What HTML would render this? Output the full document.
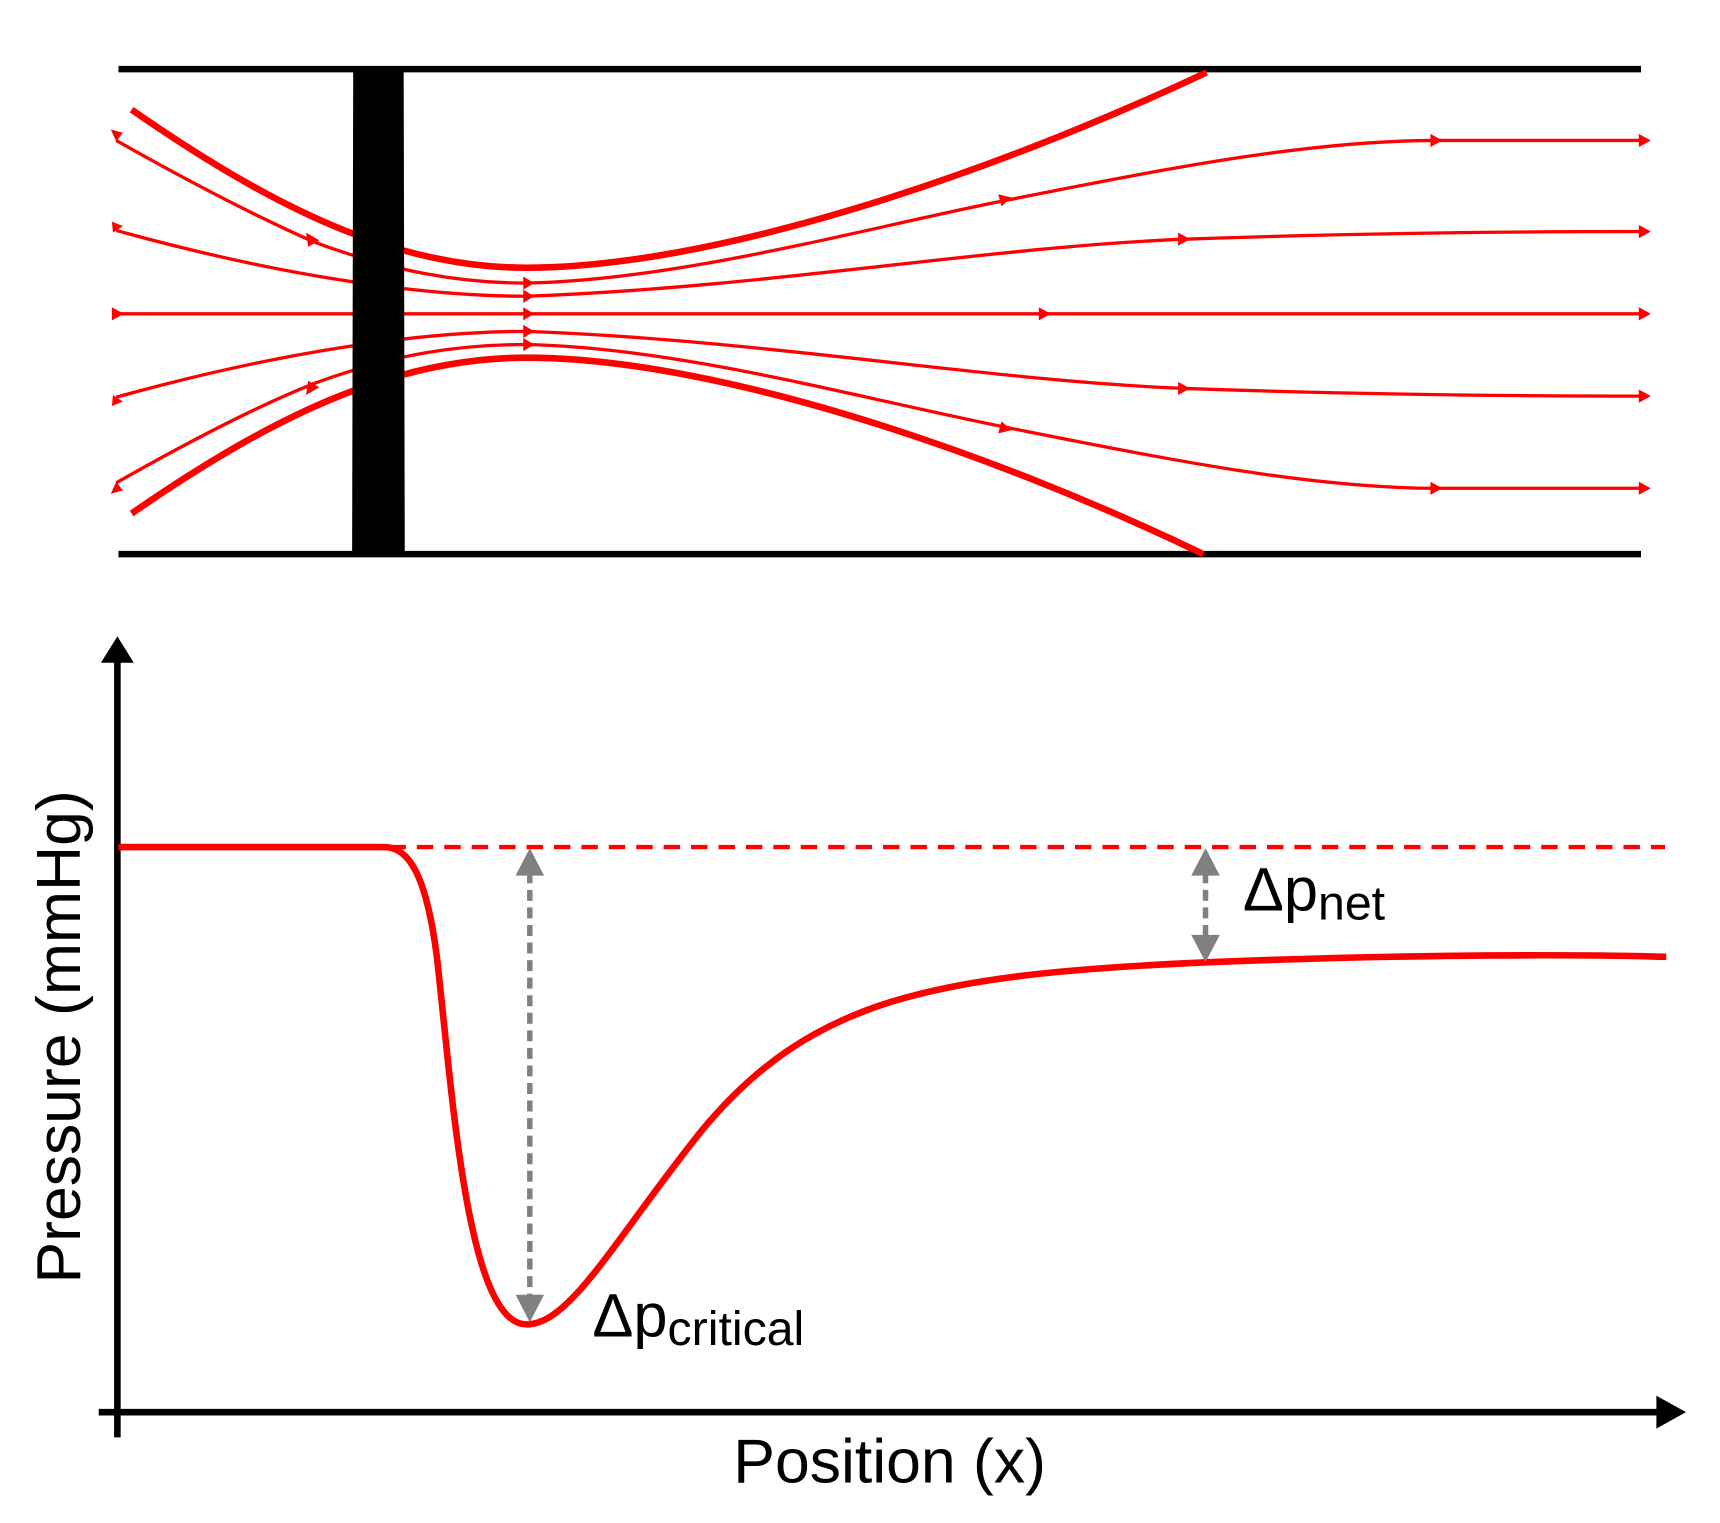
<!DOCTYPE html>
<html><head><meta charset="utf-8"><style>
html,body{margin:0;padding:0;background:#fff}
svg{display:block}
text{font-family:"Liberation Sans","DejaVu Sans",sans-serif}
</style></head><body>
<svg width="1720" height="1523" viewBox="0 0 1568 1388" preserveAspectRatio="none" xmlns="http://www.w3.org/2000/svg">
<!-- walls -->
<line x1="108" y1="63" x2="1496" y2="63" stroke="#000" stroke-width="6"/>
<line x1="108" y1="505" x2="1496" y2="505" stroke="#000" stroke-width="6"/>
<!-- thick boundaries -->
<path d="M120,100 C250,190 360,244 480,244 C650,244 900,160 1100,66" fill="none" stroke="#f00" stroke-width="6"/>
<path d="M120,468 C250,378 360,326 480,326 C650,326 900,410 1097,505" fill="none" stroke="#f00" stroke-width="6"/>
<!-- streamlines -->
<g fill="none" stroke="#f00" stroke-width="3">
<path d="M106,286 L1500,286"/>
<path d="M106,210 C250,250 380,270 480,270 C700,262 900,225 1080,218 C1250,212 1400,211 1500,211"/>
<path d="M106,362 C250,322 380,302 480,302 C700,310 900,347 1080,354 C1250,360 1400,361 1500,361"/>
<path d="M106,128 C180,170 240,200 285,220 C360,248 420,258 480,258 C620,255 780,210 915,183 C1080,150 1200,128 1310,128 L1500,128"/>
<path d="M106,440 C180,398 240,368 285,350 C360,322 420,314 480,314 C620,317 780,362 915,389 C1080,422 1200,445 1310,445 L1500,445"/>
</g>
<g fill="#f00">
<path d="M1494,122 l11,6 l-11,6z"/><path d="M1494,205 l11,6 l-11,6z"/><path d="M1494,280 l11,6 l-11,6z"/><path d="M1494,355 l11,6 l-11,6z"/><path d="M1494,439 l11,6 l-11,6z"/>
<path d="M1304,122 l11,6 l-11,6z"/><path d="M1304,439 l11,6 l-11,6z"/>
<path d="M1074,212 l11,6 l-11,6z"/><path d="M1074,348 l11,6 l-11,6z"/>
<path d="M947,280 l11,6 l-11,6z"/>
<path d="M910,177 l12,3 l-9,8z"/><path d="M910,395 l12,-3 l-9,-8z"/>
<path d="M477,252 l10,6 l-10,6z"/><path d="M477,264 l10,6 l-10,6z"/><path d="M477,280 l10,6 l-10,6z"/><path d="M477,296 l10,6 l-10,6z"/><path d="M477,308 l10,6 l-10,6z"/>
<path d="M279,212 l12,7 l-10,6z"/><path d="M279,360 l12,-7 l-10,-6z"/>
<path d="M112,121 l-11,-3 l5,11z"/><path d="M112,206 l-10,-4 l1,10z"/><path d="M102,280 l11,6 l-11,6z"/><path d="M112,366 l-10,4 l1,-10z"/><path d="M112,447 l-11,3 l5,-11z"/>
</g>
<polygon points="322,63 368,63 369,505 321,505" fill="#000"/>
<!-- axes -->
<line x1="107" y1="598" x2="107" y2="1310" stroke="#000" stroke-width="6"/>
<path d="M92,604 L107,580 L122,604 z" fill="#000"/>
<line x1="90" y1="1287" x2="1515" y2="1287" stroke="#000" stroke-width="6"/>
<path d="M1510,1272 L1537,1287 L1510,1302 z" fill="#000"/>
<!-- pressure -->
<line x1="355" y1="772" x2="1518" y2="772" stroke="#f00" stroke-width="4" stroke-dasharray="15,10"/>
<path d="M108,772 L350,772 C372,772 388,795 398,870 C412,990 425,1207 480,1207 C520,1207 560,1130 640,1030 C740,910 850,888 1100,877 C1300,869 1450,870 1519,872" fill="none" stroke="#f00" stroke-width="6"/>
<!-- grey arrows -->
<g stroke="#808080" stroke-width="5" stroke-dasharray="10,6" fill="none">
<line x1="483" y1="795" x2="483" y2="1183"/>
<line x1="1099" y1="795" x2="1099" y2="855"/>
</g>
<g fill="#808080">
<path d="M470,798 L483,773 L496,798z"/><path d="M470,1180 L483,1205 L496,1180z"/>
<path d="M1086,798 L1099,773 L1112,798z"/><path d="M1086,852 L1099,877 L1112,852z"/>
</g>
<!-- labels -->
<text x="1133" y="830" font-size="56" fill="#000">Δp<tspan font-size="44" dy="8">net</tspan></text>
<text x="540" y="1218" font-size="56" fill="#000">Δp<tspan font-size="44" dy="8">critical</tspan></text>
<text x="811" y="1351" font-size="57" fill="#000" text-anchor="middle">Position (x)</text>
<text transform="translate(73,945) rotate(-90)" font-size="57" fill="#000" text-anchor="middle">Pressure (mmHg)</text>
</svg>
</body></html>
